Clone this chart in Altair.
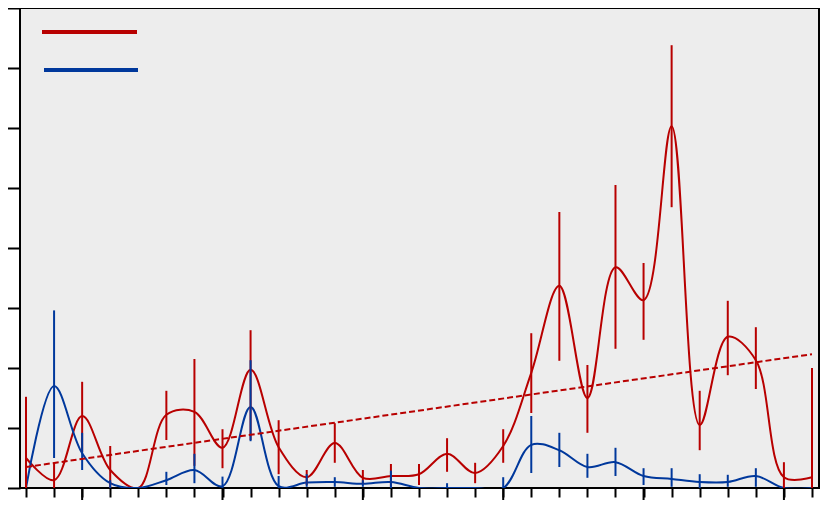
import altair as alt
import pandas as pd

RED = "#B80000"
BLUE = "#00389C"

idx = list(range(29))
red_mean = [5.0, 1.3, 12.0, 3.0, 0.0, 12.2, 12.7, 6.7, 19.7, 6.8, 1.8, 7.5, 1.7, 2.0, 2.3,
            5.7, 2.5, 7.0, 19.2, 33.7, 15.0, 36.8, 31.3, 60.3, 10.5, 25.2, 21.3, 1.8, 1.8]
red_lo = [0, 0, 6.0, 0, 0, 8.0, 3.7, 3.3, 8.0, 2.3, 0.5, 4.2, 0.7, 0.2, 0.5,
          2.7, 0.8, 4.2, 12.5, 21.2, 9.2, 23.2, 24.7, 46.8, 6.3, 18.8, 16.5, 0, 0]
red_hi = [15.2, 4.2, 17.7, 7.0, 0, 16.2, 21.5, 9.8, 26.3, 11.3, 3.0, 10.8, 3.0, 4.0, 4.0,
          8.3, 4.2, 9.8, 25.8, 46.0, 20.5, 50.5, 37.5, 73.8, 16.2, 31.2, 26.8, 4.3, 20.0]
blue_mean = [0, 17.0, 5.8, 0.8, 0, 1.3, 3.0, 0.3, 13.5, 0.3, 0.9, 1.0, 0.7, 1.0, 0,
             0, 0, 0, 7.2, 6.3, 3.5, 4.3, 2.0, 1.5, 1.0, 1.0, 2.0, 0, 0]
blue_lo = [0, 5.0, 3.0, 0, 0, 0.5, 0.8, 0, 7.8, 0, 0.2, 0.2, 0.2, 0, 0,
           0, 0, 0, 2.5, 3.5, 1.7, 2.0, 0.5, 0.2, 0, 0.2, 0.2, 0, 0]
blue_hi = [0, 29.6, 9.2, 1.3, 0, 2.7, 5.7, 1.9, 21.3, 2.0, 2.3, 1.8, 1.3, 2.9, 0,
           0.8, 0, 1.8, 12.0, 9.2, 5.7, 6.7, 3.3, 3.3, 2.3, 2.2, 3.3, 0, 0]
trend_x = [0, 28]
trend_y = [3.5, 22.3]
major_ticks = [2, 7, 12, 17, 22, 27]
y_ticks = [0, 10, 20, 30, 40, 50, 60, 70, 80]

df = pd.DataFrame({"i": idx, "red_mean": red_mean, "red_lo": red_lo, "red_hi": red_hi,
                   "blue_mean": blue_mean, "blue_lo": blue_lo, "blue_hi": blue_hi})
df_trend = pd.DataFrame({"i": trend_x, "v": trend_y})
df_major = pd.DataFrame({"i": major_ticks})
df_one = pd.DataFrame({"a": [0]})

W, H = 799, 480
xscale = alt.Scale(domain=[-0.214, 28.25], nice=False, zero=False)
yscale = alt.Scale(domain=[0, 80], nice=False)

x_axis = alt.Axis(values=idx, labels=False, title=None, domain=False, grid=False,
                  tickSize=9, tickWidth=2, tickColor="black")
y_axis = alt.Axis(values=y_ticks, labels=False, title=None, domain=False, grid=False,
                  tickSize=14, tickWidth=2, tickColor="black")


def X(field):
    return alt.X(field, scale=xscale, axis=x_axis)


def Y(field):
    return alt.Y(field, scale=yscale, axis=y_axis)


base = alt.Chart(df)

red_line = base.mark_line(interpolate="catmull-rom", clip=True, color=RED, strokeWidth=2).encode(
    x=X("i:Q"), y=Y("red_mean:Q"))
blue_line = base.mark_line(interpolate="catmull-rom", clip=True, color=BLUE, strokeWidth=2).encode(
    x=X("i:Q"), y=Y("blue_mean:Q"))
red_bars = base.transform_filter("datum.red_hi > datum.red_lo").mark_rule(
    color=RED, strokeWidth=2).encode(x=X("i:Q"), y=Y("red_lo:Q"), y2="red_hi:Q")
blue_bars = base.transform_filter("datum.blue_hi > datum.blue_lo").mark_rule(
    color=BLUE, strokeWidth=2).encode(x=X("i:Q"), y=Y("blue_lo:Q"), y2="blue_hi:Q")
trend = alt.Chart(df_trend).mark_line(color=RED, strokeWidth=2, strokeDash=[6, 3]).encode(
    x=X("i:Q"), y=Y("v:Q"))
major = alt.Chart(df_major).mark_rule(color="black", strokeWidth=2).encode(
    x=X("i:Q"), y=alt.value(H), y2=alt.value(H + 14))
leg_red = alt.Chart(df_one).mark_rule(color=RED, strokeWidth=4).encode(
    x=alt.value(22), x2=alt.value(117), y=alt.value(24))
leg_blue = alt.Chart(df_one).mark_rule(color=BLUE, strokeWidth=4).encode(
    x=alt.value(24), x2=alt.value(118), y=alt.value(62))

chart = alt.layer(
    red_line, blue_line, red_bars, blue_bars, trend, major, leg_red, leg_blue
).properties(
    width=W, height=H,
    autosize=alt.AutoSizeParams(type="none"),
    padding={"left": 12, "top": 0, "right": 1, "bottom": 12},
    background="white",
).configure_view(
    fill="#EDEDED", stroke="black", strokeWidth=2
)

chart.save("out.html", embed_options={"renderer": "svg", "actions": False})
